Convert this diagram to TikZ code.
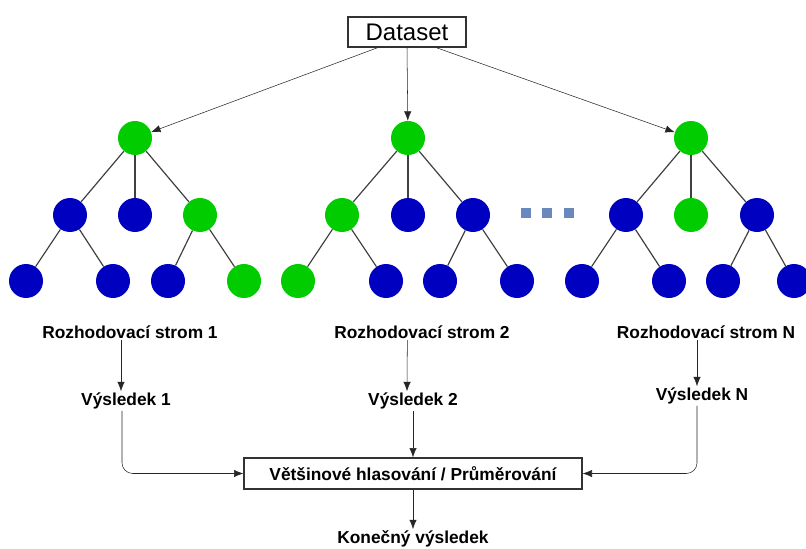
\documentclass[tikz,border=0pt]{standalone}
\usepackage{fontspec}
\setmainfont{Liberation Sans}
\usetikzlibrary{arrows.meta}
\tikzset{>={Latex[length=7pt,width=5.5pt]}, line width=1pt}
\definecolor{leafgreen}{RGB}{0,204,0}
\definecolor{leafblue}{RGB}{0,0,192}
\definecolor{dotblue}{RGB}{104,136,190}
\tikzset{
  gnode/.style={circle,fill=leafgreen,inner sep=0pt,minimum size=25.5pt},
  bnode/.style={circle,fill=leafblue,inner sep=0pt,minimum size=25.5pt},
  edge/.style={draw=black!75,line width=0.9pt},
  lbl/.style={font=\fontsize{13}{15}\selectfont\bfseries,inner sep=1pt},
  box/.style={draw=black!80,line width=1pt,inner sep=0pt}
}

\begin{document}
\begin{tikzpicture}[x=0.75pt,y=-0.75pt]
  \useasboundingbox (0,0) rectangle (806,549);
  \def\ya{138}
  \def\yb{215}
  \def\yc{281}

  % Dataset
  \node[box,minimum width=88.5pt,minimum height=22.5pt,font=\fontsize{18}{20}\selectfont]
    (data) at (407,32) {Dataset};

  % Tree 1
  \node[gnode] (t1) at (135,\ya) {};
  \node[bnode] (t1a) at (70,\yb) {};
  \node[bnode] (t1b) at (135,\yb) {};
  \node[gnode] (t1c) at (200,\yb) {};
  \node[bnode] (t1aa) at (26,\yc) {};
  \node[bnode] (t1ab) at (113,\yc) {};
  \node[bnode] (t1ca) at (168,\yc) {};
  \node[gnode] (t1cb) at (244,\yc) {};

  % Tree 2
  \node[gnode] (t2) at (408,\ya) {};
  \node[gnode] (t2a) at (342,\yb) {};
  \node[bnode] (t2b) at (408,\yb) {};
  \node[bnode] (t2c) at (473,\yb) {};
  \node[gnode] (t2aa) at (298,\yc) {};
  \node[bnode] (t2ab) at (386,\yc) {};
  \node[bnode] (t2ca) at (440,\yc) {};
  \node[bnode] (t2cb) at (517,\yc) {};

  % Tree N
  \node[gnode] (tN) at (691,\ya) {};
  \node[bnode] (tNa) at (626,\yb) {};
  \node[gnode] (tNb) at (691,\yb) {};
  \node[bnode] (tNc) at (757,\yb) {};
  \node[bnode] (tNaa) at (582,\yc) {};
  \node[bnode] (tNab) at (669,\yc) {};
  \node[bnode] (tNca) at (723,\yc) {};
  \node[bnode] (tNcb) at (794,\yc) {};

  % edges inside the trees
  \foreach \t in {t1,t2,tN}{
    \draw[edge] (\t) -- (\t a);
    \draw[edge] (\t) -- (\t b);
    \draw[edge] (\t) -- (\t c);
    \draw[edge] (\t a) -- (\t aa);
    \draw[edge] (\t a) -- (\t ab);
    \draw[edge] (\t c) -- (\t ca);
    \draw[edge] (\t c) -- (\t cb);
  }

  % dots between tree 2 and tree N
  \foreach \x [count=\i] in {526,547,569}
    \node[fill=dotblue,inner sep=0pt,minimum size=7.5pt] (dot\i) at (\x,213) {};

  % Dataset to the roots
  \draw[->,black!85] ([xshift=-22pt]data.south) -- (t1);
  \draw[->,black!85] (data.south) -- (t2);
  \draw[->,black!85] ([xshift=22pt]data.south) -- (tN);

  % labels under the trees
  \node[lbl] (s1) at (130,332) {Rozhodovací strom 1};
  \node[lbl] (s2) at (422,332) {Rozhodovací strom 2};
  \node[lbl] (sN) at (706,332) {Rozhodovací strom N};
  \node[lbl] (v1) at (126,401) {Výsledek 1};
  \node[lbl] (v2) at (413,401) {Výsledek 2};
  \node[lbl] (vN) at (702,396) {Výsledek N};

  \draw[->,black!85] ([xshift=-6.75pt]s1.south) -- ([xshift=-3.75pt]v1.north);
  \draw[->,black!85] ([xshift=-11pt]s2.south) -- ([xshift=-4.5pt]v2.north);
  \draw[->,black!85] ([xshift=-6.75pt]sN.south) -- ([xshift=-3.75pt]vN.north);

  % voting
  \node[box,minimum width=253.5pt,minimum height=23.25pt,font=\fontsize{13}{15}\selectfont\bfseries]
    (vote) at (413,473.5) {Většinové hlasování / Průměrování};
  \draw[->,black!85,rounded corners=8pt] ([xshift=-3pt]v1.south) |- (vote.west);
  \draw[->,black!85] (v2.south) -- (vote.north);
  \draw[->,black!85,rounded corners=8pt] ([xshift=-3.75pt]vN.south) |- (vote.east);

  % final result
  \node[lbl] (final) at (413,539) {Konečný výsledek};
  \draw[->,black!85] (vote.south) -- (final.north);
\end{tikzpicture}
\end{document}
